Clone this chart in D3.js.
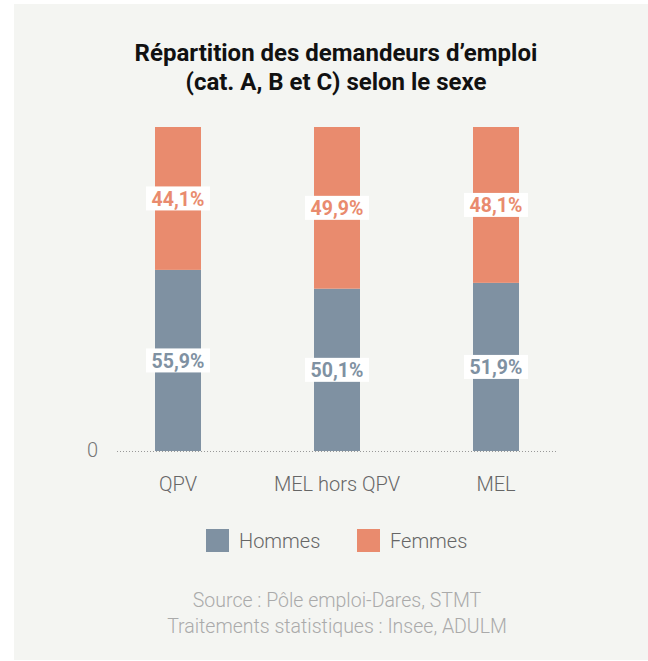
<!DOCTYPE html>
<meta charset="utf-8">
<style>
body { margin: 0; background: #fff; }
text { font-family: Roboto, "Noto Sans", sans-serif; }
</style>
<body>
<script src="https://d3js.org/d3.v7.min.js"></script>
<script>
	// data
	var categories = ["QPV", "MEL hors QPV", "MEL"];
	var hommes = [55.9, 50.1, 51.9];
	var femmes = [44.1, 49.9, 48.1];
	var seriesNames = ["Hommes", "Femmes"];
	var colours = ["#7f91a2", "#e98b6e"];

	var width = 648, height = 661;

	var svg = d3.select("body").append("svg")
		.attr("width", width)
		.attr("height", height);

	// panel
	svg.append("rect")
		.attr("x", 14).attr("y", 4)
		.attr("width", width - 14).attr("height", 656)
		.attr("fill", "#f4f5f2");

	// title
	var title = ["Répartition des demandeurs d’emploi", "(cat. A, B et C) selon le sexe"];
	svg.selectAll(".title").data(title).enter().append("text")
		.attr("class", "title")
		.attr("x", 336)
		.attr("y", function(d, i) { return 61 + i * 29; })
		.attr("text-anchor", "middle")
		.style("font-size", "24px")
		.style("font-weight", "bold")
		.style("fill", "#111")
		.text(function(d) { return d; });

	var x = d3.scalePoint()
		.domain(categories)
		.range([178, 496]);
	var barWidth = 46;

	var y = d3.scaleLinear()
		.domain([0, 100])
		.range([451, 127]);

	// zero line
	svg.append("line")
		.attr("x1", 117).attr("x2", 558)
		.attr("y1", y(0) + 0.5).attr("y2", y(0) + 0.5)
		.style("stroke", "#999")
		.style("stroke-width", 1)
		.style("stroke-dasharray", "1,2");

	svg.append("text")
		.attr("x", 98)
		.attr("y", y(0) + 6)
		.attr("text-anchor", "end")
		.style("font-size", "20px")
		.style("font-weight", 300)
		.style("fill", "#777")
		.text("0");

	var stacked = d3.stack().keys([0, 1])(categories.map(function(c, i) {
		return [hommes[i], femmes[i]];
	}));

	var g = svg.append("g");
	stacked.forEach(function(layer, k) {
		g.selectAll(".bar" + k).data(layer).enter().append("rect")
			.attr("class", "bar" + k)
			.attr("x", function(d, i) { return x(categories[i]) - barWidth / 2; })
			.attr("y", function(d) { return y(d[1]); })
			.attr("width", barWidth)
			.attr("height", function(d) { return y(d[0]) - y(d[1]); })
			.attr("fill", colours[k]);
	});

	// value labels
	stacked.forEach(function(layer, k) {
		layer.forEach(function(d, i) {
			var cx = x(categories[i]);
			var cy = (y(d[0]) + y(d[1])) / 2;
			svg.append("rect")
				.attr("x", cx - 32).attr("y", cy - 12)
				.attr("width", 64).attr("height", 24)
				.attr("fill", "#fff");
			svg.append("text")
				.attr("x", cx)
				.attr("y", cy + 7.5)
				.attr("text-anchor", "middle")
				.style("font-size", "19.5px")
				.style("font-weight", "bold")
				.style("fill", colours[k])
				.text(d3.format(".1f")(d[1] - d[0]).replace(".", ",") + "%");
		});
	});

	// category labels
	svg.selectAll(".cat").data(categories).enter().append("text")
		.attr("class", "cat")
		.attr("x", function(d) { return x(d); })
		.attr("y", 491)
		.attr("text-anchor", "middle")
		.style("font-size", "20px")
		.style("font-weight", 300)
		.style("fill", "#666")
		.text(function(d) { return d; });

	// legend
	var legendX = [206, 357];
	seriesNames.forEach(function(name, k) {
		svg.append("rect")
			.attr("x", legendX[k]).attr("y", 529)
			.attr("width", 23).attr("height", 23)
			.attr("fill", colours[k]);
		svg.append("text")
			.attr("x", legendX[k] + 33)
			.attr("y", 548)
			.style("font-size", "20px")
			.style("font-weight", 300)
			.style("fill", "#666")
			.text(name);
	});

	// source
	var source = ["Source : Pôle emploi-Dares, STMT", "Traitements statistiques : Insee, ADULM"];
	svg.selectAll(".src").data(source).enter().append("text")
		.attr("class", "src")
		.attr("x", 337)
		.attr("y", function(d, i) { return 607 + i * 26; })
		.attr("text-anchor", "middle")
		.style("font-size", "19.5px")
		.style("font-weight", 300)
		.style("fill", "#aaa")
		.text(function(d) { return d; });
</script>
</body>
</html>
